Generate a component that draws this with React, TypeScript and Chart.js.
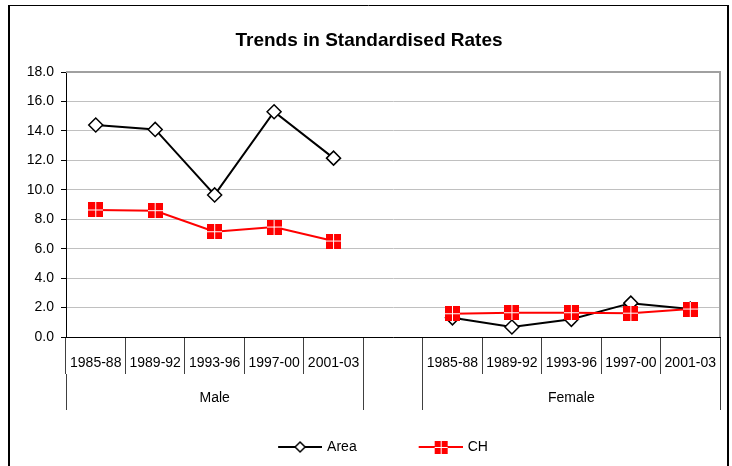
import React, { useEffect, useRef } from "react";
import { Chart, registerables } from "chart.js";

Chart.register(...registerables);

const chartTitle = "Trends in Standardised Rates";
const periods = ["1985-88", "1989-92", "1993-96", "1997-00", "2001-03"];
const groups = ["Male", "Female"];
const seriesNames = ["Area", "CH"];
const areaMale = [14.4, 14.1, 9.65, 15.3, 12.15];
const areaFemale = [1.3, 0.68, 1.2, 2.3, 1.9];
const chMale = [8.63, 8.58, 7.15, 7.47, 6.52];
const chFemale = [1.58, 1.65, 1.65, 1.62, 1.9];
const yTicks = [0, 2, 4, 6, 8, 10, 12, 14, 16, 18];

const FONT = "'Liberation Sans', Arial, sans-serif";

function makeChMarker(size: number) {
  const c = document.createElement("canvas");
  c.width = size;
  c.height = size;
  const g = c.getContext("2d")!;
  g.fillStyle = "#ff0000";
  g.fillRect(0, 0, size, size);
  g.fillStyle = "#ffffff";
  const m = Math.floor(size / 2);
  g.fillRect(m, 0, 1, size);
  g.fillRect(0, m, size, 1);
  return c;
}

function makeLegendImg(kind: "area" | "ch") {
  const c = document.createElement("canvas");
  c.width = 74;
  c.height = 16;
  const g = c.getContext("2d")!;
  const cy = 8;
  const cx = 52;
  g.lineWidth = 2;
  g.strokeStyle = kind === "area" ? "#000000" : "#ff0000";
  g.beginPath();
  g.moveTo(30, cy);
  g.lineTo(74, cy);
  g.stroke();
  if (kind === "area") {
    g.fillStyle = "#ffffff";
    g.strokeStyle = "#000000";
    g.lineWidth = 1.5;
    g.beginPath();
    g.moveTo(cx, cy - 5);
    g.lineTo(cx + 5, cy);
    g.lineTo(cx, cy + 5);
    g.lineTo(cx - 5, cy);
    g.closePath();
    g.fill();
    g.stroke();
  } else {
    g.fillStyle = "#ff0000";
    g.fillRect(cx - 6, cy - 6, 13, 13);
    g.fillStyle = "#ffffff";
    g.fillRect(cx, cy - 6, 1, 13);
    g.fillRect(cx - 6, cy, 13, 1);
  }
  return c;
}

export default function App() {
  const ref = useRef<HTMLCanvasElement>(null);

  useEffect(() => {
    if (!ref.current) return;
    const categories = [...periods, "", ...periods];
    const areaData = [...areaMale, null, ...areaFemale];
    const chData = [...chMale, null, ...chFemale];
    const n = periods.length;
    const groupCenters = [(n - 1) / 2, n + 1 + (n - 1) / 2];
    const boundaries = [-0.5, n - 0.5, n + 0.5, 2 * n + 0.5];
    const chMarker = makeChMarker(15);
    const legendImgs = [makeLegendImg("area"), makeLegendImg("ch")];

    const borderPlugin = {
      id: "borders",
      beforeDatasetsDraw(chart: any) {
        const { ctx, chartArea } = chart;
        ctx.save();
        ctx.strokeStyle = "#a0a0a0";
        ctx.lineWidth = 2;
        ctx.beginPath();
        ctx.moveTo(chartArea.left, chartArea.top);
        ctx.lineTo(chartArea.right, chartArea.top);
        ctx.lineTo(chartArea.right, chartArea.bottom);
        ctx.stroke();
        ctx.restore();
      },
      afterDraw(chart: any) {
        const { ctx } = chart;
        ctx.save();
        ctx.strokeStyle = "#000000";
        ctx.lineWidth = 2;
        ctx.beginPath();
        ctx.moveTo(9, 5);
        ctx.lineTo(9, 470);
        ctx.moveTo(728, 5);
        ctx.lineTo(728, 470);
        ctx.stroke();
        ctx.lineWidth = 1;
        ctx.beginPath();
        ctx.moveTo(8, 5.5);
        ctx.lineTo(729, 5.5);
        ctx.stroke();
        ctx.restore();
      },
    };

    const chart = new Chart(ref.current, {
      type: "line",
      data: {
        labels: categories,
        datasets: [
          {
            label: seriesNames[0],
            data: areaData,
            order: 1,
            borderColor: "#000000",
            borderWidth: 2,
            pointStyle: "rectRot",
            pointRadius: 7,
            pointBackgroundColor: "#ffffff",
            pointBorderColor: "#000000",
            pointBorderWidth: 1.5,
            tension: 0,
          },
          {
            label: seriesNames[1],
            data: chData,
            order: 0,
            borderColor: "#ff0000",
            borderWidth: 2,
            pointStyle: chMarker as any,
            pointRadius: 7,
            tension: 0,
          },
        ],
      },
      plugins: [borderPlugin],
      options: {
        responsive: false,
        animation: false,
        events: [],
        layout: { padding: { left: 18, right: 12, top: 0, bottom: 2 } },
        plugins: {
          title: {
            display: true,
            text: chartTitle,
            color: "#000000",
            font: { family: FONT, size: 19, weight: "bold" },
            padding: { top: 29.6, bottom: 19.6 },
          },
          legend: {
            display: true,
            position: "bottom",
            labels: {
              usePointStyle: true,
              pointStyleWidth: 70,
              boxHeight: 14,
              padding: 34,
              color: "#000000",
              font: { family: FONT, size: 14 },
              generateLabels: () =>
                seriesNames.map((name, i) => ({
                  text: name,
                  pointStyle: legendImgs[i] as any,
                  fillStyle: "transparent",
                  strokeStyle: "transparent",
                  lineWidth: 0,
                  hidden: false,
                  datasetIndex: i,
                  fontColor: "#000000",
                })),
            },
          },
          tooltip: { enabled: false },
        },
        scales: {
          y: {
            min: 0,
            max: 18,
            afterFit: (s: any) => {
              s.width = 48;
            },
            afterBuildTicks: (s: any) => {
              s.ticks = yTicks.map((v) => ({ value: v }));
            },
            ticks: {
              color: "#000000",
              font: { family: FONT, size: 14 },
              padding: 7,
              callback: (v: any) => Number(v).toFixed(1),
            },
            grid: {
              color: "#c0c0c0",
              tickColor: "#000000",
              tickLength: 5,
              lineWidth: 1,
            },
            border: { color: "#000000", width: 1 },
          },
          x: {
            type: "category",
            position: "bottom",
            offset: true,
            afterFit: (s: any) => {
              s.height = 37;
            },
            ticks: {
              color: "#000000",
              font: { family: FONT, size: 14 },
              padding: -19,
              autoSkip: false,
              maxRotation: 0,
            },
            grid: {
              display: true,
              offset: true,
              drawOnChartArea: false,
              color: "#404040",
              tickLength: 37,
            },
            border: { color: "#000000", width: 1 },
          },
          x2: {
            type: "linear",
            axis: "x",
            position: "bottom",
            min: -0.5,
            max: 2 * n + 0.5,
            afterFit: (s: any) => {
              s.height = 32;
            },
            afterBuildTicks: (s: any) => {
              const vals = [...boundaries, ...groupCenters].sort((a, b) => a - b);
              s.ticks = vals.map((v) => ({ value: v }));
            },
            ticks: {
              color: "#000000",
              font: { family: FONT, size: 14 },
              padding: -20,
              autoSkip: false,
              maxRotation: 0,
              callback: (v: any) => {
                const gi = groupCenters.indexOf(Number(v));
                return gi >= 0 ? groups[gi] : "";
              },
            },
            grid: {
              display: true,
              drawOnChartArea: false,
              tickLength: 36,
              color: (c: any) =>
                c.tick && boundaries.includes(c.tick.value) ? "#404040" : "rgba(0,0,0,0)",
            },
            border: { display: false },
          },
        },
      } as any,
    });
    return () => chart.destroy();
  }, []);

  return (
    <div style={{ position: "absolute", left: 0, top: 0, width: 732, height: 466, background: "#ffffff" }}>
      <canvas ref={ref} width={732} height={466} style={{ display: "block" }} />
    </div>
  );
}
